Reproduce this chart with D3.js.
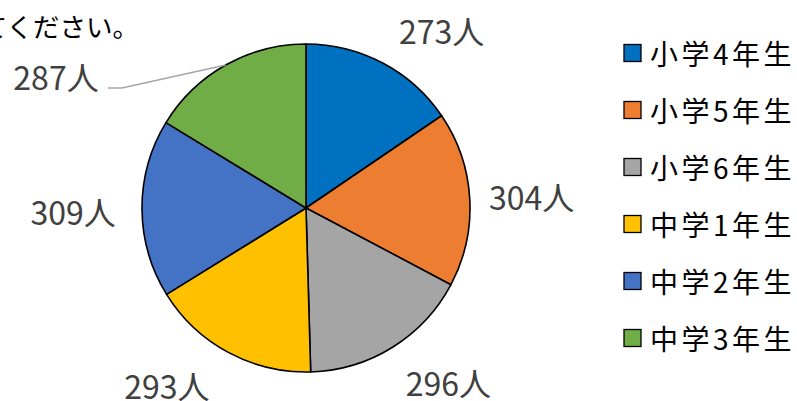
<!DOCTYPE html>
<html><head><meta charset="utf-8">
<script src="https://cdn.jsdelivr.net/npm/d3@7"></script>
<style>html,body{margin:0;padding:0;background:#fff;overflow:hidden}</style>
</head><body>
<svg id="c" width="797" height="401"></svg>
<script>
const categories = ["小学4年生","小学5年生","小学6年生","中学1年生","中学2年生","中学3年生"];
const values = [273, 304, 296, 293, 309, 287];
const colors = ["#0070C0","#ED7D31","#A5A5A5","#FFC000","#4472C4","#70AD47"];
const unit = "人";
const titleText = "てください。";

const svg = d3.select("#c");
const cx = 306, cy = 208, R = 164;
const FONT = "'Noto Sans CJK JP','Noto Sans',sans-serif";

// title (cut at left edge)
svg.append("text").attr("x", 139).attr("y", 37).attr("text-anchor","end")
  .attr("font-family", FONT).attr("font-size", 26.5)
  .attr("fill","#000").text(titleText);

const pie = d3.pie().sort(null).value(d => d)(values);
const arc = d3.arc().innerRadius(0).outerRadius(R);
const g = svg.append("g").attr("transform", `translate(${cx},${cy})`);
g.selectAll("path").data(pie).join("path")
  .attr("d", arc).attr("fill", (d,i) => colors[i])
  .attr("stroke", "#000").attr("stroke-width", 1.6).attr("stroke-linejoin","round");

// labels
const labelR = 226;
const nudges = [[30,22],[0,0],[23,-18],[-32,-22],[-7,2],null];
pie.forEach((d,i) => {
  const a = (d.startAngle + d.endAngle) / 2;
  let x, y;
  if (nudges[i]) {
    x = Math.sin(a) * labelR + nudges[i][0];
    y = -Math.cos(a) * labelR + nudges[i][1];
  } else {
    const ex = Math.sin(a) * R, ey = -Math.cos(a) * R;
    const lx = 56 - cx, ly = 76 - cy;
    g.append("polyline")
      .attr("points", `${ex},${ey} ${lx+66},${ly+12} ${lx+52},${ly+12}`)
      .attr("fill","none").attr("stroke","#A6A6A6").attr("stroke-width",1.3);
    x = lx; y = ly;
  }
  g.append("text").attr("x", x).attr("y", y)
    .attr("text-anchor","middle").attr("dominant-baseline","central")
    .attr("font-family", FONT).attr("font-size", 32).attr("fill","#404040")
    .text(values[i] + unit);
});

// legend
const ly0 = 53, lstep = 57;
const leg = svg.append("g");
categories.forEach((c,i) => {
  const y = ly0 + i * lstep;
  leg.append("rect").attr("x", 624).attr("y", y - 8.5).attr("width", 17).attr("height", 17)
    .attr("fill", colors[i]).attr("stroke","#000").attr("stroke-width",1.3);
  leg.append("text").attr("x", 650).attr("y", y).attr("dominant-baseline","central")
    .attr("font-family", FONT).attr("font-size", 28).attr("letter-spacing", 3.5).attr("fill","#000").text(c);
});
</script>
</body></html>
